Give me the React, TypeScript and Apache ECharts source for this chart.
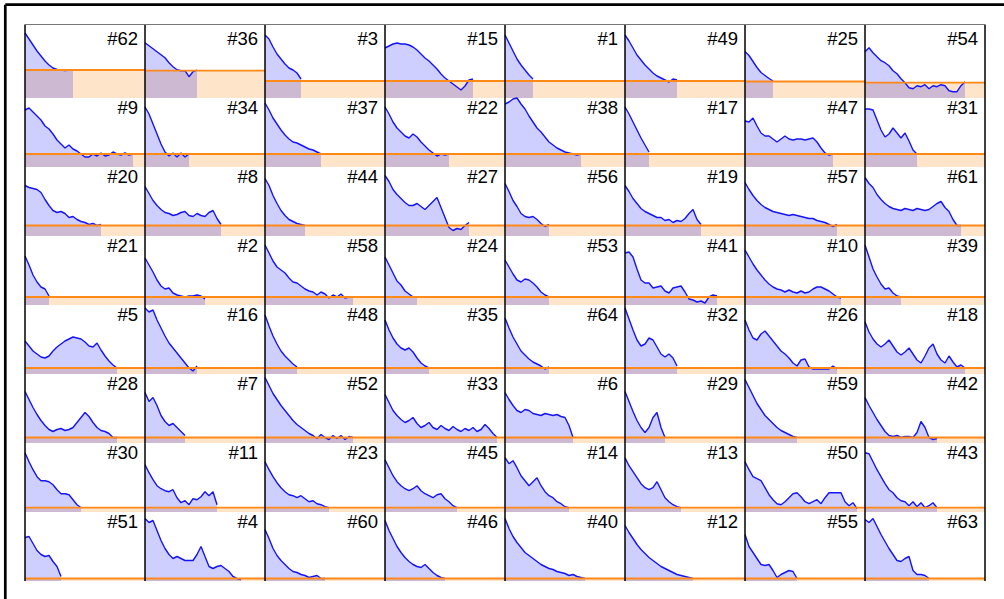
import React, { useEffect, useRef } from "react";
import * as echarts from "echarts";

// ---- cell ids (row-major, 8 x 8) ----
const cellIds = [
  62, 36, 3, 15, 1, 49, 25, 54,
  9, 34, 37, 22, 38, 17, 47, 31,
  20, 8, 44, 27, 56, 19, 57, 61,
  21, 2, 58, 24, 53, 41, 10, 39,
  5, 16, 48, 35, 64, 32, 26, 18,
  28, 7, 52, 33, 6, 29, 59, 42,
  30, 11, 23, 45, 14, 13, 50, 43,
  51, 4, 60, 46, 40, 12, 55, 63,
];

// ---- y-axis ranges ----
const row1YMin = [-28, -27.3, -17, -17, -17, -17, -16.5, -15.3];
const row1YMax = [45.5, 46.2, 56.5, 56.5, 56.5, 56.5, 57, 58.2];
const rowYMin = [0, -13, -10.5, -8, -6, -5.5, -4.3, -2.5];
const rowYMax = [0, 60.5, 63, 65.5, 67.5, 68, 69.2, 71];
const xMax = 30;

// ---- series values ----
const s62 = [37, 31, 25, 19, 14, 9, 5, 2, 0.5, 0, -0.5, 0, 0.3];
const s36 = [28, 25, 22, 19, 16, 13, 8, 4, 1, 0, 0, -6, -1, 0.5];
const s3 = [46, 42, 34, 27, 22, 17, 13, 11, 8, 2];
const s15 = [33, 35, 37, 38, 37, 37, 36, 34, 31, 27, 23, 20, 16, 12, 7, 3, 0, -3, -6, -9, -5, 1, 2];
const s1 = [46, 38, 30, 22, 16, 11, 6, 2];
const s49 = [46, 40, 33, 26, 21, 16, 12, 8, 5, 3, 1, -1, 2, 1];
const s25 = [30, 26, 20, 14, 9, 6, 3, 0.5];
const s54 = [31, 35, 30, 26, 22, 20, 17, 12, 9, 4, 0, -5, -6, -3, -4, -2, -6, -3, -4, -2, -3, -8, -9, -9, -3, 1];

const s9 = [44, 46, 42, 38, 34, 28, 25, 20, 14, 10, 6, 9, 5, 3, 0, -3, -3, 0, -2, 1, -2, -1, 2, 0, -1, 1, -1, 0];
const s34 = [47, 40, 30, 20, 10, 2, -2, 1, -3, 1, -3, 0];
const s37 = [51, 44, 36, 30, 24, 19, 15, 12, 11, 9, 7, 5, 4, 2, 0];
const s22 = [47, 40, 32, 26, 22, 18, 16, 20, 17, 12, 8, 4, 1, -2, 0, -1, 0];
const s38 = [50, 52, 55, 56, 50, 45, 38, 32, 26, 22, 17, 12, 9, 6, 4, 2, 1, 0, -1, 0];
const s17 = [47, 40, 32, 24, 16, 9, 2];
const s47 = [33, 32, 36, 28, 21, 18, 18, 15, 12, 15, 18, 15, 14, 15, 15, 14, 15, 16, 12, 6, 1, -1, 0];
const s31 = [45, 45, 44, 34, 24, 17, 20, 26, 21, 16, 21, 13, 4, 0];

const s20 = [40, 38, 37, 36, 33, 26, 20, 15, 13, 14, 12, 8, 9, 6, 4, 3, 1, 2, 0, 1];
const s8 = [39, 32, 25, 20, 16, 13, 12, 10, 11, 13, 14, 10, 9, 12, 10, 9, 13, 15, 7, 1];
const s44 = [47, 40, 30, 22, 15, 10, 6, 4, 2, 1, 0];
const s27 = [50, 44, 36, 31, 27, 23, 20, 20, 22, 19, 16, 20, 24, 28, 18, 8, -2, -5, -3, -4, 0, 3];
const s56 = [42, 34, 25, 19, 12, 9, 8, 9, 6, 2, -1, 1];
const s19 = [40, 34, 27, 22, 17, 14, 12, 10, 8, 8, 5, 6, 3, 5, 4, 7, 12, 16, 6, 1];
const s57 = [43, 36, 30, 25, 21, 18, 16, 14, 13, 12, 11, 10, 11, 10, 9, 8, 7, 7, 5, 4, 3, 1, -1, 1];
const s61 = [48, 42, 38, 31, 26, 22, 19, 17, 16, 15, 17, 16, 15, 17, 16, 15, 16, 19, 22, 24, 18, 14, 6, 0, 0];

const s21 = [41, 32, 22, 15, 10, 8, 1];
const s2 = [39, 32, 25, 17, 11, 8, 9, 4, 2, 1, 0, 1, 1, 2, 1, -2];
const s58 = [52, 44, 36, 30, 27, 24, 19, 15, 14, 11, 8, 6, 5, 2, 5, 3, -1, 2, 0, 3, -1, 0, 0];
const s24 = [40, 32, 24, 16, 12, 6, 3, 0, 0];
const s53 = [37, 30, 23, 17, 15, 18, 17, 14, 10, 5, 2, 0];
const s41 = [44, 45, 40, 28, 17, 14, 14, 9, 10, 11, 6, 4, 9, 10, 11, 5, -2, -3, -5, -4, -6, 0, 2, 1];
const s10 = [47, 40, 33, 27, 22, 17, 13, 10, 8, 7, 5, 7, 5, 4, 6, 4, 5, 8, 10, 10, 8, 6, 3, 0, -1];
const s39 = [52, 40, 28, 20, 13, 8, 9, 4, 1, 0];

const s5 = [27, 22, 17, 14, 11, 10, 12, 17, 21, 24, 27, 29, 31, 30, 29, 26, 22, 21, 25, 18, 12, 7, 3, 0];
const s16 = [60, 56, 58, 48, 40, 32, 25, 20, 15, 10, 5, 0, -3, 2];
const s48 = [53, 42, 32, 24, 17, 12, 8, 4, 1];
const s35 = [48, 38, 30, 24, 20, 18, 20, 16, 10, 5, 2, 0];
const s64 = [50, 40, 31, 24, 17, 13, 9, 6, 4, 2, -1, 1];
const s32 = [60, 49, 38, 28, 22, 24, 30, 28, 21, 14, 11, 14, 10, 2];
const s26 = [48, 38, 30, 28, 34, 37, 32, 27, 22, 17, 14, 10, 5, 2, 8, 9, 1, -1, -1, -1, -1, -1, 2, -1];
const s18 = [46, 36, 29, 24, 21, 24, 28, 22, 16, 13, 16, 20, 14, 8, 5, 12, 20, 24, 14, 8, 5, 12, 6, 1, 3, 0];

const s28 = [46, 38, 30, 23, 17, 12, 8, 6, 8, 9, 7, 8, 10, 15, 20, 25, 21, 15, 10, 7, 6, 4, 0, 0];
const s7 = [45, 36, 40, 32, 22, 16, 12, 14, 10, 6, 2];
const s52 = [60, 52, 44, 38, 32, 27, 22, 17, 13, 10, 7, 4, 2, -1, 3, 0, -2, 2, -1, 2, -2, 1, 0];
const s33 = [43, 35, 27, 22, 18, 15, 17, 20, 14, 10, 12, 15, 10, 8, 12, 9, 7, 11, 8, 6, 9, 7, 10, 6, 8, 13, 9, 4, 0];
const s6 = [45, 38, 32, 27, 25, 28, 27, 24, 23, 22, 24, 23, 22, 23, 21, 20, 12, 0];
const s29 = [46, 36, 26, 17, 10, 5, 10, 20, 25, 10, 0];
const s59 = [58, 50, 42, 34, 28, 22, 18, 14, 10, 7, 5, 3, 1, 0];
const s42 = [40, 32, 25, 18, 12, 6, 2, 1, 2, 0, 1, 1, 0, 5, 16, 10, 0, -2, -1];

const s30 = [55, 46, 38, 31, 27, 27, 26, 23, 18, 14, 14, 13, 8, 3, 0];
const s11 = [43, 35, 28, 22, 19, 17, 16, 18, 10, 5, 7, 3, 9, 8, 11, 16, 12, 16, 3];
const s23 = [46, 38, 31, 25, 20, 16, 13, 12, 10, 12, 9, 6, 7, 4, 3, 1, 0];
const s45 = [48, 40, 32, 26, 22, 19, 17, 19, 22, 17, 14, 12, 10, 13, 14, 9, 6, 2, 0];
const s14 = [50, 44, 47, 40, 32, 27, 22, 26, 30, 22, 16, 12, 10, 6, 4, 1, 0];
const s13 = [50, 42, 36, 30, 24, 20, 18, 20, 26, 18, 10, 6, 3, 1, 0];
const s50 = [46, 38, 31, 29, 27, 20, 13, 8, 4, 3, 6, 10, 14, 15, 11, 6, 4, 6, 8, 4, 10, 15, 15, 15, 15, 6, 2, 5, -1];
const s43 = [55, 54, 46, 38, 31, 24, 18, 15, 10, 7, 6, 2, 6, 1, 5, 0, 2, 5, 0];

const s51 = [41, 42, 35, 28, 24, 22, 23, 17, 12, 2];
const s4 = [60, 56, 58, 48, 38, 30, 24, 20, 22, 20, 18, 18, 18, 24, 32, 22, 12, 10, 12, 13, 10, 7, 2, 0, -1];
const s60 = [49, 40, 30, 23, 18, 14, 10, 7, 6, 4, 3, 1, 2, 3, 0, 0];
const s46 = [58, 48, 40, 32, 26, 21, 17, 14, 12, 11, 14, 10, 6, 3, 1, 0];
const s40 = [60, 50, 42, 36, 31, 26, 23, 20, 17, 14, 12, 10, 9, 7, 6, 5, 3, 4, 2, 1, 0];
const s12 = [53, 46, 40, 34, 29, 25, 21, 18, 15, 12, 10, 8, 6, 4, 3, 2, 1, 0];
const s55 = [44, 32, 26, 20, 14, 13, 14, 8, 1, 4, 6, 8, 7, 0];
const s63 = [59, 56, 60, 52, 44, 37, 30, 24, 18, 17, 20, 22, 8, 4, 4, 3, 0];

const cellSeries = [
  s62, s36, s3, s15, s1, s49, s25, s54,
  s9, s34, s37, s22, s38, s17, s47, s31,
  s20, s8, s44, s27, s56, s19, s57, s61,
  s21, s2, s58, s24, s53, s41, s10, s39,
  s5, s16, s48, s35, s64, s32, s26, s18,
  s28, s7, s52, s33, s6, s29, s59, s42,
  s30, s11, s23, s45, s14, s13, s50, s43,
  s51, s4, s60, s46, s40, s12, s55, s63,
];

// ---- layout & style ----
const NCOL = 8;
const LEFT = 25;
const TOP = 24.5;
const CELL_W = 120;
const CELL_H = 73.5;
const ROW_STEP = 69;
const BLUE = "#1414f5";
const AREA = "rgba(0,0,255,0.19)";
const PEACH = "#fee4c9";
const ORANGE = "#ff8a18";
const FONT = "'Liberation Sans', Arial, Helvetica, sans-serif";

export default function App() {
  const ref = useRef<HTMLDivElement>(null);

  useEffect(() => {
    if (!ref.current) return;
    const chart = echarts.init(ref.current, null, { renderer: "svg" });

    const grid: any[] = [];
    const xAxis: any[] = [];
    const yAxis: any[] = [];
    const series: any[] = [];
    const graphic: any[] = [];

    cellIds.forEach((id, k) => {
      const r = Math.floor(k / NCOL);
      const c = k % NCOL;
      const yMin = r === 0 ? row1YMin[c] : rowYMin[r];
      const yMax = r === 0 ? row1YMax[c] : rowYMax[r];
      grid.push({
        left: LEFT + c * CELL_W,
        top: TOP + r * ROW_STEP,
        width: CELL_W,
        height: CELL_H,
        containLabel: false,
      });
      xAxis.push({ type: "value", gridIndex: k, min: 0, max: xMax, show: false });
      yAxis.push({ type: "value", gridIndex: k, min: yMin, max: yMax, show: false });
      series.push({
        type: "line",
        xAxisIndex: k,
        yAxisIndex: k,
        data: [[0, 0], [xMax, 0]],
        symbol: "none",
        silent: true,
        lineStyle: { width: 0, opacity: 0 },
        areaStyle: { color: PEACH, opacity: 1, origin: "start" },
        z: 1,
      });
      series.push({
        type: "line",
        xAxisIndex: k,
        yAxisIndex: k,
        data: cellSeries[k].map((v, i) => [i, v]),
        symbol: "none",
        showSymbol: false,
        silent: true,
        lineStyle: { color: BLUE, width: 1.4 },
        areaStyle: { color: AREA, opacity: 1, origin: "start" },
        z: 2,
      });
      series.push({
        type: "line",
        xAxisIndex: k,
        yAxisIndex: k,
        data: [[0, 0], [xMax, 0]],
        symbol: "none",
        silent: true,
        lineStyle: { color: ORANGE, width: 1.8 },
        z: 3,
      });
      graphic.push({
        type: "text",
        z: 100,
        x: LEFT + (c + 1) * CELL_W - 7,
        y: TOP + r * ROW_STEP + 14,
        style: {
          text: "#" + id,
          fill: "#000",
          font: `18.5px ${FONT}`,
          textAlign: "right",
          textVerticalAlign: "middle",
          align: "right",
          verticalAlign: "middle",
        },
      });
    });

    const gridBottom = TOP + (NCOL - 1) * ROW_STEP + CELL_H;
    for (let c = 0; c <= NCOL; c++) {
      const x = LEFT + c * CELL_W;
      graphic.push({
        type: "line",
        z: 90,
        shape: { x1: x, y1: TOP, x2: x, y2: gridBottom },
        style: { stroke: "#000", lineWidth: 1.5 },
      });
    }
    graphic.push({
      type: "line",
      z: 90,
      shape: { x1: LEFT, y1: TOP, x2: LEFT + NCOL * CELL_W, y2: TOP },
      style: { stroke: "#777", lineWidth: 1 },
    });
    // outer frame
    graphic.push({
      type: "line",
      z: 90,
      shape: { x1: 5.3, y1: 4.7, x2: 1004, y2: 4.7 },
      style: { stroke: "#000", lineWidth: 2.7 },
    });
    graphic.push({
      type: "line",
      z: 90,
      shape: { x1: 5.3, y1: 4.7, x2: 5.3, y2: 599 },
      style: { stroke: "#000", lineWidth: 2.7 },
    });

    chart.setOption({
      animation: false,
      backgroundColor: "#fff",
      grid,
      xAxis,
      yAxis,
      series,
      graphic,
    });

    return () => chart.dispose();
  }, []);

  return (
    <div
      ref={ref}
      style={{ position: "fixed", left: 0, top: 0, width: 1004, height: 599 }}
    />
  );
}
